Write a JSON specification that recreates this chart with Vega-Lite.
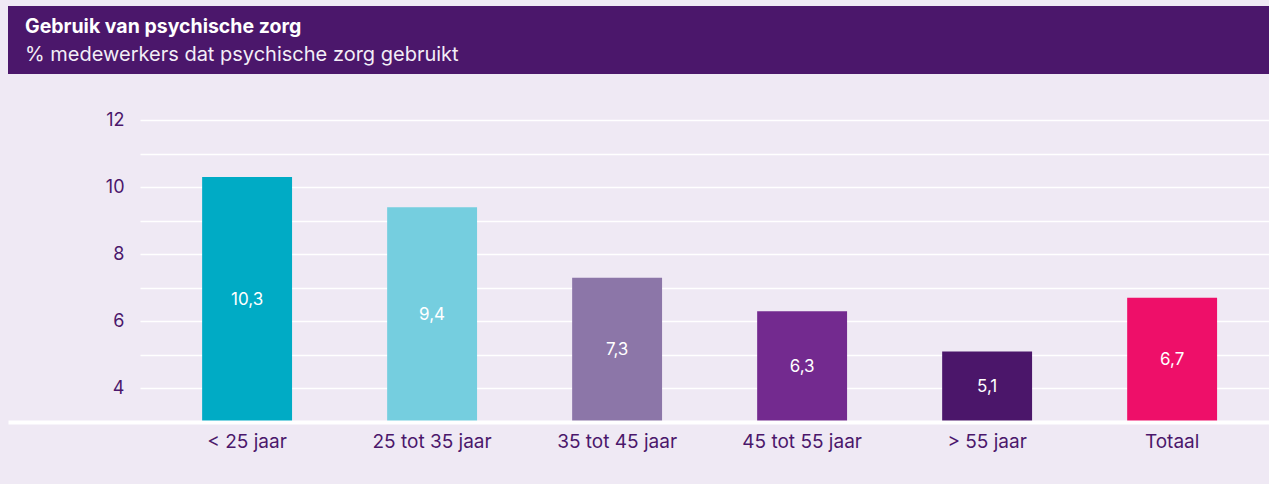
{
  "$schema": "https://vega.github.io/schema/vega-lite/v6.json",
  "background": "#efe9f4",
  "padding": {"left": 8, "top": 6, "right": 0, "bottom": 33},
  "spacing": 37,
  "config": {
    "font": "Inter",
    "view": {"stroke": null},
    "locale": {"number": {"decimal": ",", "thousands": ".", "grouping": [3], "currency": ["€", ""]}},
    "axisY": {
      "title": null,
      "values": [3, 4, 5, 6, 7, 8, 9, 10, 11, 12],
      "labelExpr": "datum.value % 2 == 0 ? datum.label : ''",
      "grid": true,
      "gridColor": "white",
      "gridWidth": 1.5,
      "domain": false,
      "ticks": false,
      "labelPadding": 16,
      "labelFontSize": 18,
      "labelColor": "#4b176b",
      "offset": -132
    }
  },
  "data": {
    "values": [
      {"groep": "< 25 jaar", "value": 10.3},
      {"groep": "25 tot 35 jaar", "value": 9.4},
      {"groep": "35 tot 45 jaar", "value": 7.3},
      {"groep": "45 tot 55 jaar", "value": 6.3},
      {"groep": "> 55 jaar", "value": 5.1},
      {"groep": "Totaal", "value": 6.7}
    ]
  },
  "vconcat": [
    {
      "width": 1261,
      "height": 68,
      "view": {"fill": "#4b176b"},
      "title": {
        "text": "Gebruik van psychische zorg",
        "subtitle": "% medewerkers dat psychische zorg gebruikt",
        "anchor": "start",
        "orient": "top",
        "frame": "group",
        "offset": -60,
        "dx": 17,
        "color": "white",
        "subtitleColor": "#f3eef7",
        "font": "Inter",
        "subtitleFont": "Inter",
        "fontSize": 19.5,
        "subtitleFontSize": 20,
        "fontWeight": "bold",
        "subtitleFontWeight": "normal",
        "subtitlePadding": 8
      },
      "data": {"values": []},
      "mark": {"type": "text"},
      "encoding": {}
    },
    {
      "width": 1261,
      "height": 302,
      "encoding": {
        "x": {
          "field": "groep",
          "type": "nominal",
          "sort": null,
          "scale": {"paddingInner": 0.514, "paddingOuter": 0.665, "align": 0.789},
          "axis": {
            "title": null,
            "domain": true,
            "domainColor": "white",
            "domainWidth": 4,
            "ticks": false,
            "grid": false,
            "labelAngle": 0,
            "labelPadding": 10,
            "labelFontSize": 19,
            "labelColor": "#4b176b",
            "zindex": 1
          }
        }
      },
      "layer": [
        {
          "mark": {"type": "bar"},
          "encoding": {
            "y": {
              "field": "value",
              "type": "quantitative",
              "title": null,
              "scale": {"domain": [3, 12], "nice": false, "zero": false}
            },
            "y2": {"datum": 3},
            "color": {
              "field": "groep",
              "type": "nominal",
              "sort": null,
              "scale": {
                "domain": ["< 25 jaar", "25 tot 35 jaar", "35 tot 45 jaar", "45 tot 55 jaar", "> 55 jaar", "Totaal"],
                "range": ["#00abc5", "#75cedf", "#8c76a8", "#732a8f", "#4b166a", "#ee0f69"]
              },
              "legend": null
            }
          }
        },
        {
          "transform": [{"calculate": "(datum.value + 3) / 2", "as": "mid"}],
          "mark": {"type": "text", "color": "white", "fontSize": 17, "baseline": "middle"},
          "encoding": {
            "y": {"field": "mid", "type": "quantitative", "title": null},
            "text": {"field": "value", "type": "quantitative", "format": ".1f"}
          }
        }
      ]
    }
  ]
}
